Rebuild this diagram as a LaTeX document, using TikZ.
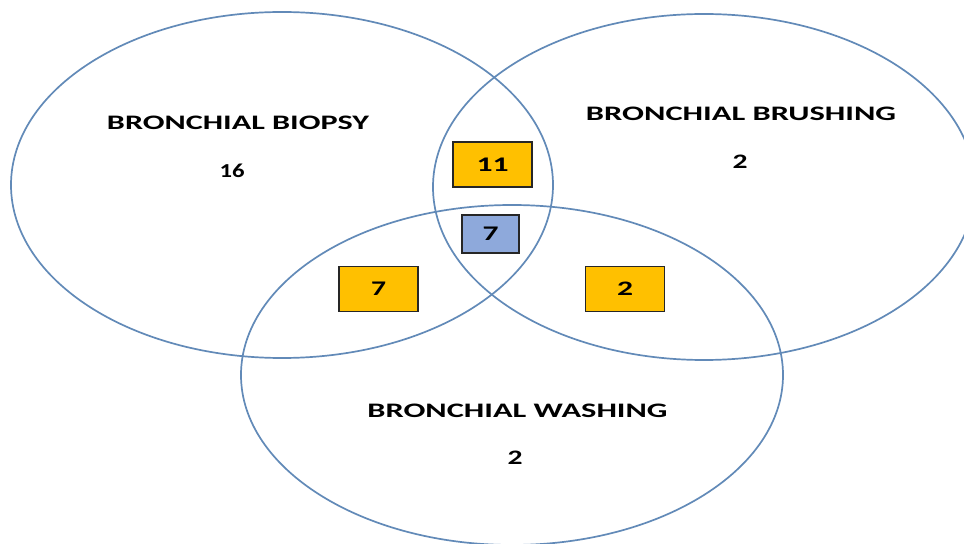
\documentclass[tikz,border=0pt]{standalone}
\usepackage{fontspec}
\usepackage{graphicx}
\setmainfont{Carlito}
\definecolor{ringblue}{RGB}{98,138,184}
\definecolor{boxorange}{RGB}{255,192,0}
\definecolor{boxblue}{RGB}{142,169,219}
\definecolor{boxedge}{RGB}{38,38,38}
\newcommand{\fitt}[3]{\resizebox{#1bp}{#2bp}{\bfseries #3}}
\begin{document}
\begin{tikzpicture}[x=1bp,y=-1bp,
  ring/.style={draw=ringblue,line width=1.7bp},
  lbl/.style={inner sep=0pt,text=black},
  obox/.style={draw=boxedge,fill=boxorange,line width=1.4bp,inner sep=0pt,minimum width=79bp,minimum height=45bp},
  bbox/.style={draw=boxedge,fill=boxblue,line width=1.4bp,inner sep=0pt,minimum width=57bp,minimum height=38bp}]
\useasboundingbox (0,0) rectangle (964,544);
\fill[white] (0,0) rectangle (964,544);
% circles
\draw[ring] (282,185) ellipse [x radius=271, y radius=173];
\draw[ring] (704,187) ellipse [x radius=271, y radius=173];
\draw[ring] (512,375) ellipse [x radius=271, y radius=170];
% labels
\node[lbl] (tbio) at (238,123) {\fitt{262}{13.5}{BRONCHIAL BIOPSY}};
\node[lbl] (nbio) at (232,170.5) {\fitt{25}{13.5}{16}};
\node[lbl] (tbru) at (741,114) {\fitt{310}{13.5}{BRONCHIAL BRUSHING}};
\node[lbl] (nbru) at (740,162) {\fitt{15}{13.5}{2}};
\node[lbl] (twas) at (517.5,411) {\fitt{300}{13.5}{BRONCHIAL WASHING}};
\node[lbl] (nwas) at (515,458) {\fitt{15}{13.5}{2}};
% boxes
\node[obox] (b11) at (492.5,164.5) {\fitt{32}{13.5}{11}};
\node[bbox] (b7c) at (490.5,234) {\fitt{16}{13.5}{7}};
\node[obox] (b7l) at (378.5,289) {\fitt{15}{13.5}{7}};
\node[obox] (b2r) at (625,289) {\fitt{16}{13.5}{2}};
\end{tikzpicture}
\end{document}
